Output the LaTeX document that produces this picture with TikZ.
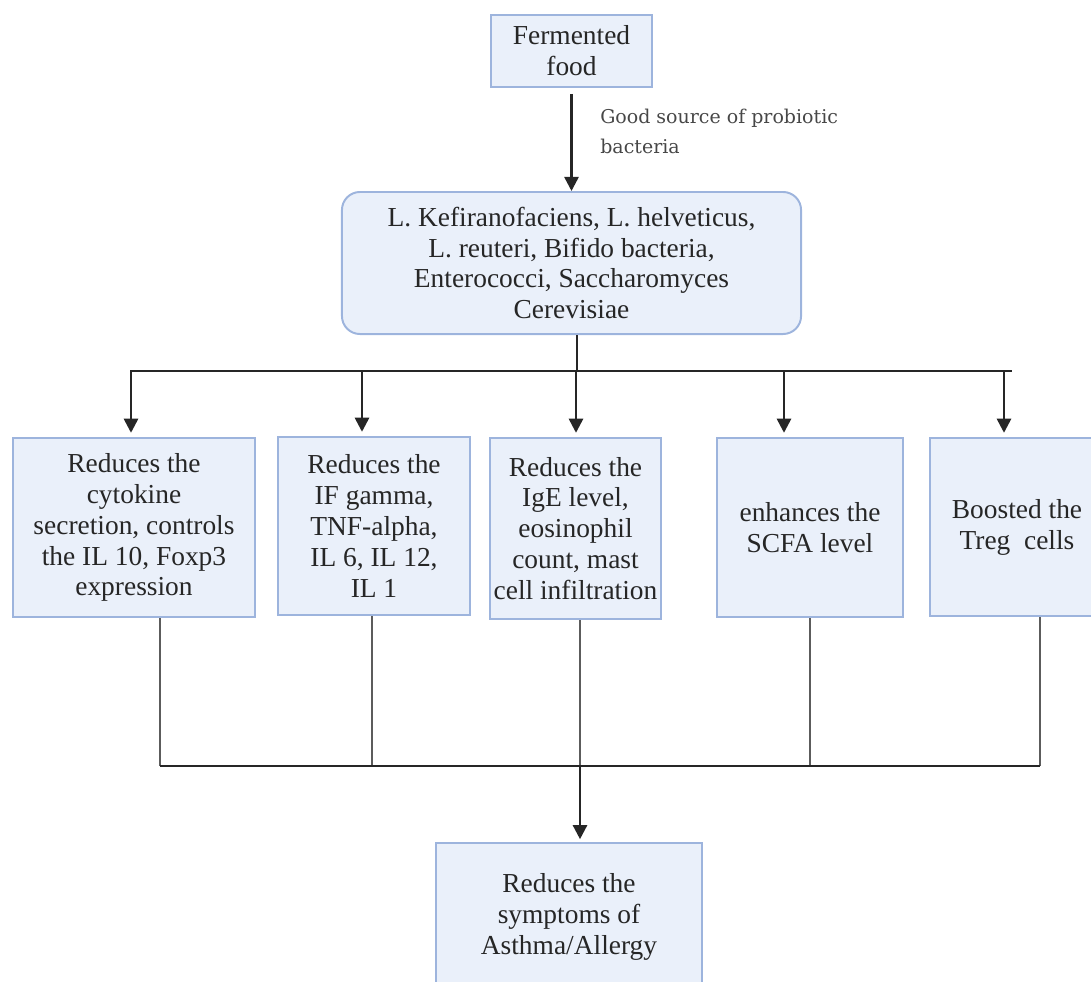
\documentclass[tikz,border=0pt]{standalone}
\usepackage{fontspec}
\setmainfont{Liberation Serif}
\newfontfamily\labelfont{DejaVu Serif}
\usetikzlibrary{arrows.meta}
\definecolor{boxfill}{HTML}{EAF0FA}
\definecolor{boxline}{HTML}{9DB4DD}
\definecolor{inkgray}{HTML}{262626}

\begin{document}
\begin{tikzpicture}[%
        x=0.025cm, y=-0.025cm,
        mybox/.style={draw=boxline, fill=boxfill, line width=1.4pt, align=center,
            text=inkgray, inner sep=0pt, font=\fontsize{19.5}{22}\selectfont},
        myarrow/.style={-{Triangle[length=10pt,width=10pt]}, line width=1.8pt, color=inkgray},
        myline/.style={line width=2pt, color=inkgray},
        thinline/.style={line width=1.3pt, color=inkgray!75}
    ]
    \useasboundingbox (0,0) rectangle (1091,981);
    \clip (0,0) rectangle (1091,981);

    \node [mybox, minimum width=4.025cm, minimum height=1.8cm] (food) at (571.5,51) {Fermented\\food};
    \node [mybox, rounded corners=0.45cm, minimum width=11.475cm, minimum height=3.55cm]
        (bact) at (571.5,263)
        {L. Kefiranofaciens, L. helveticus,\\L. reuteri, Bifido bacteria,\\Enterococci, Saccharomyces\\Cerevisiae};

    \node [mybox, minimum width=6.05cm, minimum height=4.475cm] (b1) at (134,527.5)
        {Reduces the\\cytokine\\secretion, controls\\the IL 10, Foxp3\\expression};
    \node [mybox, minimum width=4.8cm, minimum height=4.45cm] (b2) at (374,526)
        {Reduces the\\IF gamma,\\TNF-alpha,\\IL 6, IL 12,\\IL 1};
    \node [mybox, minimum width=4.275cm, minimum height=4.525cm] (b3) at (575.5,528.5)
        {Reduces the\\IgE level,\\eosinophil\\count, mast\\cell infiltration};
    \node [mybox, minimum width=4.65cm, minimum height=4.475cm] (b4) at (810,527.5)
        {enhances the\\SCFA level};
    \node [mybox, minimum width=4.35cm, minimum height=4.45cm] (b5) at (1017,527)
        {Boosted the\\Treg\ \ cells};

    \node [mybox, minimum width=6.65cm, minimum height=3.7cm] (symp) at (569,917)
        {Reduces the\\symptoms of\\Asthma/Allergy};

    \draw [myarrow] (food.south) ++(0,6) -- (bact.north);
    \node [anchor=north west, align=left, text=inkgray!85, inner sep=0pt,
           font=\labelfont\fontsize{13.5}{21}\selectfont] (note) at (600,109)
        {Good source of probiotic\\bacteria};

    \coordinate (hub) at (577,371);
    \coordinate (busL) at (130,371);
    \coordinate (busR) at (1012,371);
    \draw [myline] (bact.south -| hub) -- (hub);
    \draw [myline] (busL) -- (busR);
    \foreach \i/\xpos in {1/131, 2/362, 3/576, 4/784, 5/1004} {
        \coordinate (d\i) at (\xpos,371);
        \draw [myarrow, shorten >=3pt] (d\i) -- (d\i |- b\i.north);
    }

    \foreach \i/\xpos in {1/160, 2/372, 3/580, 4/810, 5/1040} {
        \coordinate (u\i) at (\xpos,766);
        \draw [thinline] (u\i |- b\i.south) -- (u\i);
    }
    \draw [myline] (u1) -- (u5);
    \coordinate (sink) at (580,766);
    \draw [myarrow, shorten >=2pt] (sink) -- (sink |- symp.north);
\end{tikzpicture}
\end{document}
